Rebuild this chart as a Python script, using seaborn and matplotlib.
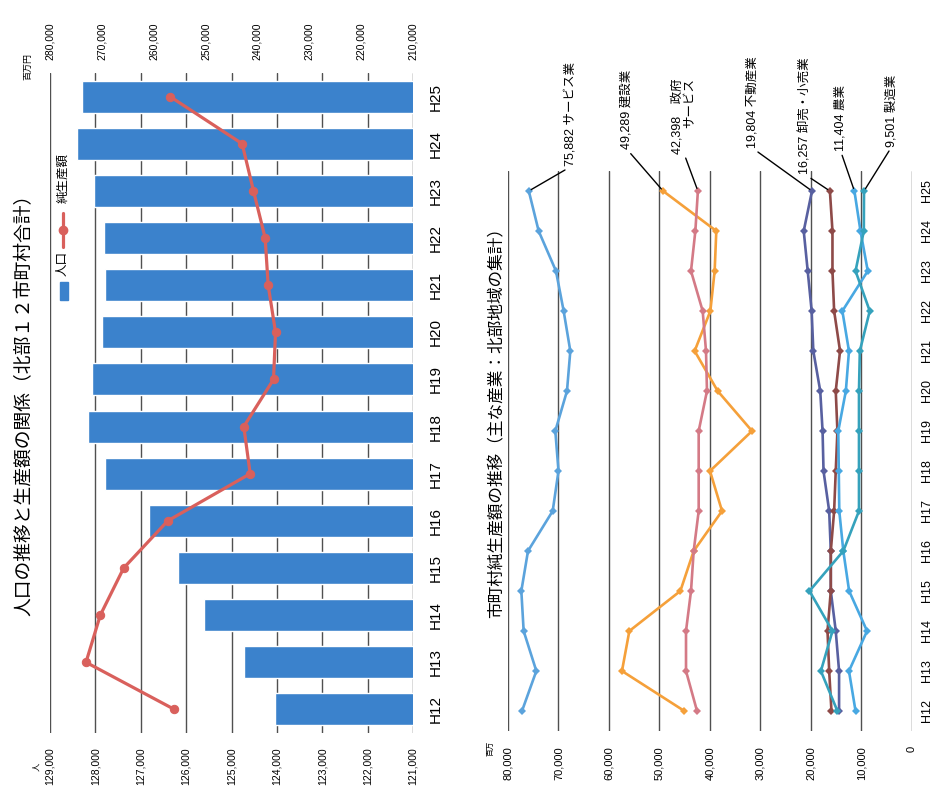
import matplotlib
matplotlib.use("Agg")
import matplotlib.pyplot as plt
from matplotlib.lines import Line2D
from matplotlib.patches import Rectangle
from matplotlib.ticker import FuncFormatter
import numpy as np
import pandas as pd
import seaborn as sns

# ---- data -------------------------------------------------------------
years = ["H12", "H13", "H14", "H15", "H16", "H17", "H18",
         "H19", "H20", "H21", "H22", "H23", "H24", "H25"]

# 人口（人）
population = [124050, 124720, 125610, 126170, 126820, 127780, 128160,
              128080, 127860, 127780, 127810, 128020, 128400, 128290]
# 純生産額（百万円）
net_output = [256010, 273060, 270300, 265790, 257300, 241400, 242630,
              236900, 236510, 237930, 238510, 240760, 242950, 256850]

# 主な産業別 純生産額（百万円）
service = [77230, 74390, 76900, 77360, 76040, 71150, 70000,
           70630, 68320, 67660, 68980, 70500, 73930, 75882]
construction = [45080, 57430, 55970, 45870, 43230, 37620, 40000,
                31680, 38480, 43040, 39930, 39080, 38750, 49289]
government = [42570, 44750, 44750, 43760, 43230, 42240, 42240,
              42240, 40600, 40790, 41450, 43760, 42900, 42398]
real_estate = [14440, 14440, 15100, 16080, 16080, 16400, 17520,
               17710, 18170, 19540, 19870, 20650, 21440, 19804]
wholesale = [15950, 16400, 16730, 16080, 16080, 15420, 15100,
             14770, 15100, 14250, 15420, 15750, 15750, 16257]
agriculture = [11180, 12480, 8900, 12450, 13600, 14400, 14500,
               14600, 13100, 12480, 13790, 8760, 10200, 11404]
manufacturing = [14770, 18040, 15750, 20300, 13600, 10500, 10500,
                 10500, 10500, 10330, 8370, 11180, 9540, 9501]

industries = ["サービス業", "建設業", "政府サービス", "不動産業",
              "卸売・小売業", "農業", "製造業"]
industry_values = [service, construction, government, real_estate,
                   wholesale, agriculture, manufacturing]
industry_labels = ["サービス業", "建設業", "政府\nサービス", "不動産業",
                   "卸売・小売業", "農業", "製造業"]

# ---- style ------------------------------------------------------------
sns.set_theme(style="white")
plt.rcParams["font.family"] = ["Liberation Sans", "Noto Sans CJK JP"]
plt.rcParams["text.color"] = "black"
plt.rcParams["xtick.color"] = "black"
plt.rcParams["ytick.color"] = "black"

BAR_BLUE = "#3B82CC"
LINE_RED = "#D9605C"
GRID = "#505050"
palette = {
    "サービス業": "#5BA3DC",
    "建設業": "#F5A03A",
    "政府サービス": "#D47A86",
    "不動産業": "#5860A0",
    "卸売・小売業": "#8E4A48",
    "農業": "#48A8E2",
    "製造業": "#35A2BC",
}
comma = FuncFormatter(lambda v, _: f"{v:,.0f}")

W, H = 937, 800
fig = plt.figure(figsize=(W / 100, H / 100), dpi=100)


def fx(px):
    return px / W


def fy(py):
    return 1 - py / H


# ---- left chart: population bars + net output line -------------------
axL = fig.add_axes([fx(50), fy(733), fx(413) - fx(50), fy(73) - fy(733)])
pop_df = pd.DataFrame({"year": years, "population": population})
sns.barplot(data=pop_df, x="population", y="year", order=years[::-1],
            orient="h", color=BAR_BLUE, saturation=1, width=0.68, ax=axL)
axL.set_xlim(129000, 121000)
axL.set_xticks(np.arange(121000, 129001, 1000))
axL.xaxis.set_major_formatter(comma)
axL.grid(axis="x", color=GRID, lw=1)
axL.set_axisbelow(True)
for s in axL.spines.values():
    s.set_visible(False)
axL.set_xlabel("")
axL.set_ylabel("")
axL.yaxis.tick_right()
axL.tick_params(axis="x", length=0, pad=10, labelsize=7.5, labelrotation=90)
axL.tick_params(axis="y", length=0, pad=11, labelsize=11, labelrotation=90)
for t in axL.get_yticklabels():
    t.set_va("center")

axT = axL.twiny()
pos = [len(years) - 1 - i for i in range(len(years))]
sns.lineplot(x=net_output, y=pos, sort=False, orient="y", estimator=None,
             color=LINE_RED, lw=2.3, marker="o", markersize=6,
             markeredgecolor=LINE_RED, ax=axT)
axT.set_xlim(280000, 210000)
axT.set_xticks(np.arange(210000, 280001, 10000))
axT.xaxis.set_major_formatter(comma)
axT.tick_params(axis="x", length=0, pad=9, labelsize=7.5, labelrotation=90)
axT.grid(False)
for s in axT.spines.values():
    s.set_visible(False)
axT.set_ylabel("")
axL.set_ylim(len(years) - 0.5, -0.5)

fig.text(fx(24), fy(400), "人口の推移と生産額の関係（北部１２市町村合計）",
         rotation=90, ha="center", va="center", fontsize=13.5)
fig.text(fx(38), fy(767), "人", rotation=90, ha="center", va="center",
         fontsize=6)
fig.text(fx(28), fy(66), "百万円", rotation=90, ha="center", va="center",
         fontsize=6.5)

# legend (rotated)
fig.patches.append(Rectangle((fx(59.5), fy(300)), fx(8), fy(282) - fy(300),
                             transform=fig.transFigure, color=BAR_BLUE))
fig.text(fx(63), fy(263), "人口", rotation=90, ha="center", va="center",
         fontsize=9)
fig.lines.append(Line2D([fx(63), fx(63)], [fy(247), fy(213)],
                        transform=fig.transFigure, color=LINE_RED, lw=2.3))
fig.lines.append(Line2D([fx(63)], [fy(230)], transform=fig.transFigure,
                        color=LINE_RED, marker="o", markersize=6))
fig.text(fx(63), fy(178), "純生産額", rotation=90, ha="center", va="center",
         fontsize=9)

# ---- right chart: industry net output lines --------------------------
axR = fig.add_axes([fx(508), fy(731), fx(912) - fx(508), fy(171) - fy(731)])
long_df = pd.DataFrame({
    "industry": np.repeat(industries, len(years)),
    "pos": np.tile(np.arange(len(years)), len(industries)),
    "value": np.concatenate(industry_values),
})
sns.lineplot(data=long_df, x="value", y="pos", hue="industry",
             hue_order=industries, palette=palette, sort=False,
             orient="y", estimator=None, lw=1.9, marker="D", markersize=4.5,
             markeredgewidth=0, legend=False, ax=axR)
axR.set_xlim(80000, 0)
axR.set_xticks(np.arange(0, 80001, 10000))
axR.xaxis.set_major_formatter(comma)
axR.set_ylim(-0.5, len(years) - 0.5)
axR.set_yticks(range(len(years)))
axR.set_yticklabels(years)
axR.yaxis.tick_right()
axR.grid(axis="x", color=GRID, lw=1)
axR.set_axisbelow(True)
for s in axR.spines.values():
    s.set_visible(False)
axR.set_xlabel("")
axR.set_ylabel("")
axR.tick_params(axis="x", length=0, pad=11, labelsize=8, labelrotation=90)
axR.tick_params(axis="y", length=0, pad=6.5, labelsize=9, labelrotation=90)
for t in axR.get_yticklabels():
    t.set_va("center")

label_offsets = [(31, 18), (-26, 30), (-10, 27), (-43, 31),
                 (-18, 12), (-10, 29), (20, 32)]
last = len(years) - 1
for name, vals, lab, off in zip(industries, industry_values,
                                industry_labels, label_offsets):
    v = vals[-1]
    if "\n" in lab:
        first, second = lab.split("\n")
        text = f"{v:,}　{first}\n{second}"
    else:
        text = f"{v:,} {lab}"
    axR.annotate(text, xy=(v, last), xytext=off, textcoords="offset points",
                 rotation=90, ha="center", va="bottom", fontsize=9,
                 multialignment="right", annotation_clip=False,
                 arrowprops=dict(arrowstyle="-", color="black", lw=1,
                                 shrinkA=1, shrinkB=2, relpos=(0.5, 0)))

fig.text(fx(497), fy(418), "市町村純生産額の推移（主な産業：北部地域の集計）",
         rotation=90, ha="center", va="center", fontsize=12)
fig.text(fx(491), fy(748), "百万", rotation=90, ha="center", va="center",
         fontsize=5.5)

fig.savefig("out.png", dpi=100)
